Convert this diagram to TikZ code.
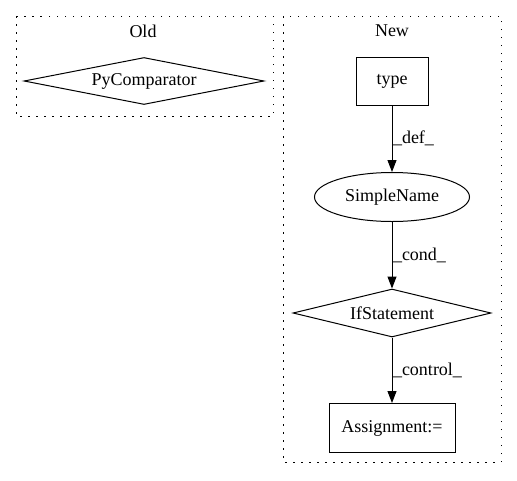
\documentclass[tikz,border=0pt]{standalone}
\usepackage{fontspec}
\setmainfont{Liberation Serif}
\usetikzlibrary{arrows.meta,shapes.geometric}

\begin{document}
\begin{tikzpicture}[x=1pt,y=-1pt,
  every node/.style={font=\fontsize{18}{21}\selectfont},
  cluster/.style={line width=1pt,dash pattern=on 1.5pt off 6.5pt},
  box/.style={draw,line width=1pt,rectangle,inner sep=0pt},
  cmp/.style={draw,line width=1pt,diamond,aspect=5,inner sep=0pt},
  oval/.style={draw,line width=1pt,ellipse,inner sep=0pt},
  edge/.style={line width=1pt,-{Triangle[length=12pt,width=9pt]}},
  lbl/.style={right,inner sep=0.5pt}]
  \useasboundingbox (0,0) rectangle (517,480);
  % old version
  \draw[cluster] (16,16) rectangle (273,116);
  \node (old) at (143,31) {Old};
  \node[cmp,minimum width=240pt,minimum height=47pt] (pycmp) at (144,81) {PyComparator};
  % new version
  \draw[cluster] (283,16) rectangle (501,462);
  \node (new) at (392,31) {New};
  \node[box,minimum width=72pt,minimum height=48pt] (type) at (392,81) {type};
  \node[oval,minimum width=155pt,minimum height=49pt] (simple) at (392,197) {SimpleName};
  \node[cmp,minimum width=198pt,minimum height=48pt] (ifstmt) at (392,313) {IfStatement};
  \node[box,minimum width=126pt,minimum height=49pt] (assign) at (392,428) {Assignment:=};
  \draw[edge] (type) -- node[lbl] {\_def\_} (simple);
  \draw[edge] (simple) -- node[lbl] {\_cond\_} (ifstmt);
  \draw[edge] (ifstmt) -- node[lbl] {\_control\_} (assign);
\end{tikzpicture}
\end{document}
